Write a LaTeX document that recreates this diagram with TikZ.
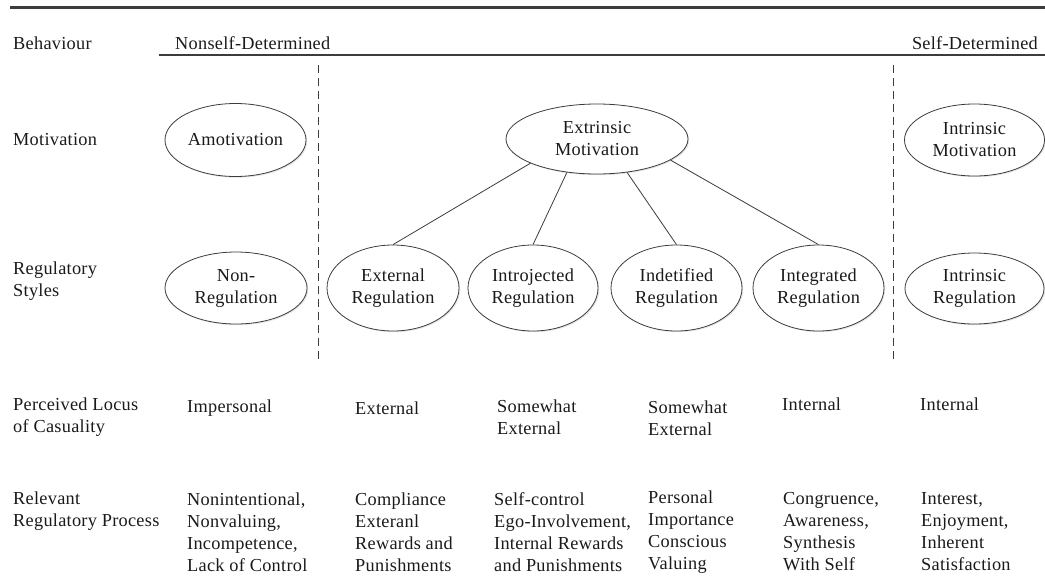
\documentclass[tikz,border=0pt]{standalone}
\usepackage{fontspec}
\setmainfont{Liberation Serif}[LetterSpace=1.5]
\usetikzlibrary{shapes.geometric,shadows}
\definecolor{ink}{HTML}{1A1A1A}
\definecolor{rulegrey}{HTML}{3C3C3C}
\begin{document}
\begin{tikzpicture}[x=1pt,y=-1pt,
  every node/.style={text=ink, font=\fontsize{18.3}{22}\selectfont},
  oval/.style={ellipse, draw=rulegrey, line width=0.8pt, fill=white,
    inner sep=0pt, align=center,
    drop shadow={shadow xshift=1.2pt, shadow yshift=-1.2pt, fill=black, opacity=0.10}},
  lbl/.style={anchor=west, align=left, inner sep=0pt},
  conn/.style={draw=rulegrey, line width=0.8pt},
  divider/.style={draw=rulegrey, line width=0.8pt, dash pattern=on 8pt off 5pt},
]
\useasboundingbox (0,0) rectangle (1045,579);

% header rules
\coordinate (topL) at (10,7);
\coordinate (topR) at (1045,7);
\draw[draw=rulegrey, line width=3pt] (topL) -- (topR);
\coordinate (subL) at (159,55);
\coordinate (subR) at (1045,55);
\draw[draw=rulegrey, line width=2pt] (subL) -- (subR);

% header texts
\node[lbl] (hBeh) at (13,43) {Behaviour};
\node[lbl] (hNon) at (175,43) {Nonself-Determined};
\node[anchor=east, inner sep=0pt] (hSelf) at (1038,43) {Self-Determined};

% row labels
\node[lbl] (rMot) at (13,140) {Motivation};
\node[lbl] (rReg) at (13,281) {Regulatory\\Styles};
\node[lbl] (rLoc) at (13,417) {Perceived Locus\\of Casuality};
\node[lbl] (rProc) at (13,511) {Relevant\\Regulatory Process};

% dashed dividers
\coordinate (dAtop) at (318,65);
\coordinate (dAbot) at (318,362);
\coordinate (dBtop) at (893,65);
\coordinate (dBbot) at (893,362);
\draw[divider] (dAtop) -- (dAbot);
\draw[divider] (dBtop) -- (dBbot);

% motivation ellipses
\node[oval, minimum width=141pt, minimum height=73pt] (amot) at (235.5,140) {Amotivation};
\node[oval, minimum width=182pt, minimum height=70pt] (ext) at (597,139) {Extrinsic\\Motivation};
\node[oval, minimum width=140pt, minimum height=72pt] (intm) at (974.5,140) {Intrinsic\\Motivation};

% regulatory style ellipses
\node[oval, minimum width=142pt, minimum height=72pt] (nonreg) at (236,288) {Non-\\Regulation};
\node[oval, minimum width=132pt, minimum height=86pt] (extreg) at (393,288) {External\\Regulation};
\node[oval, minimum width=130pt, minimum height=86pt] (intro) at (533,288) {Introjected\\Regulation};
\node[oval, minimum width=131pt, minimum height=86pt] (ident) at (676.5,288) {Indetified\\Regulation};
\node[oval, minimum width=131pt, minimum height=86pt] (integ) at (818.5,288) {Integrated\\Regulation};
\node[oval, minimum width=139pt, minimum height=71pt] (intreg) at (974.5,288.5) {Intrinsic\\Regulation};

% extrinsic motivation branches
\draw[conn] (ext.200) -- (extreg.north);
\draw[conn] (ext.228) -- (intro.north);
\draw[conn] (ext.312) -- (ident.north);
\draw[conn] (ext.344) -- (integ.north);

% perceived locus of causality
\node[lbl] (lImp) at (187,408) {Impersonal};
\node[lbl] (lExt) at (355,408) {External};
\node[lbl] (lSw1) at (497,417) {Somewhat\\External};
\node[lbl] (lSw2) at (648,418) {Somewhat\\External};
\node[lbl] (lInt1) at (782,404) {Internal};
\node[lbl] (lInt2) at (920,404) {Internal};

% relevant regulatory processes
\node[lbl] (pNon) at (187,532) {Nonintentional,\\Nonvaluing,\\Incompetence,\\Lack of Control};
\node[lbl] (pExt) at (355,532) {Compliance\\Exteranl\\Rewards and\\Punishments};
\node[lbl] (pIntro) at (494,532) {Self-control\\Ego-Involvement,\\Internal Rewards\\and Punishments};
\node[lbl] (pIdent) at (648,532) {Personal\\Importance\\Conscious\\Valuing};
\node[lbl] (pInteg) at (783,532) {Congruence,\\Awareness,\\Synthesis\\With Self};
\node[lbl] (pIntr) at (921,532) {Interest,\\Enjoyment,\\Inherent\\Satisfaction};
\end{tikzpicture}
\end{document}
